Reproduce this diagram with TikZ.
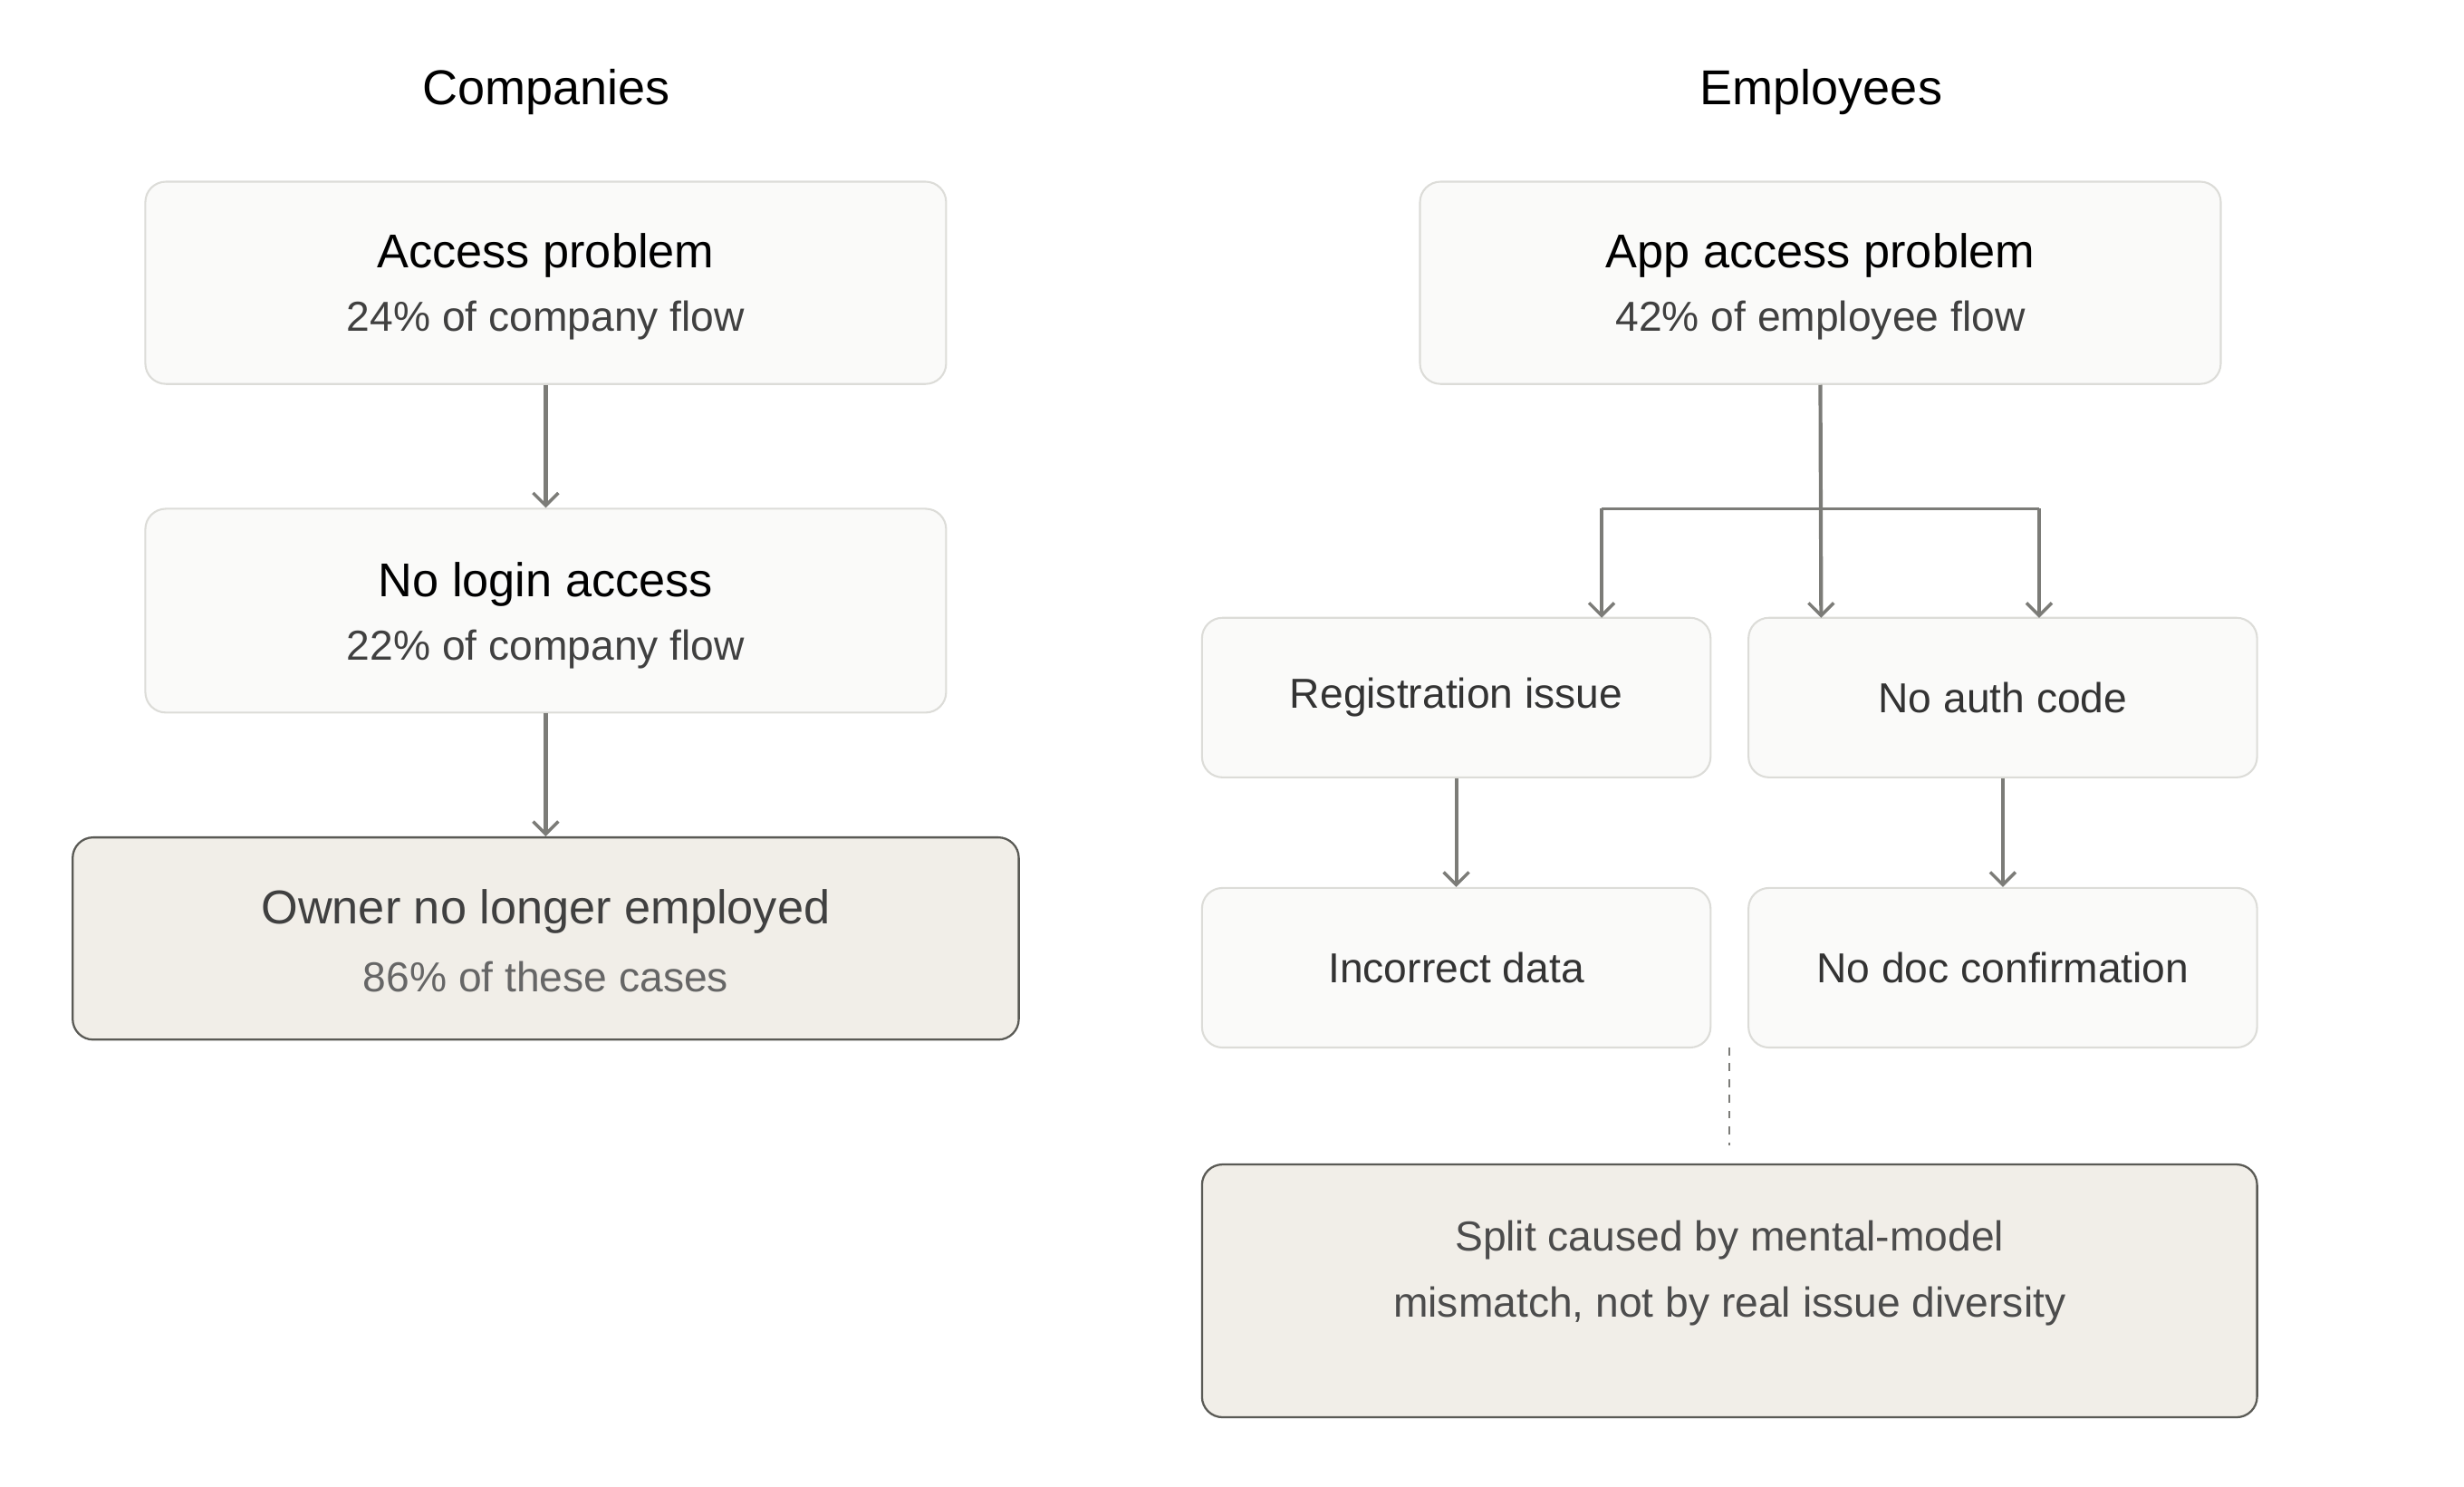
\documentclass[tikz,border=0pt]{standalone}
\usepackage{fontspec}
\setmainfont{Liberation Sans}
\usetikzlibrary{arrows.meta}
\definecolor{bfill}{HTML}{FAFAF9}
\definecolor{bdraw}{HTML}{DCDCD8}
\definecolor{nfill}{HTML}{F1EEE8}
\definecolor{ndraw}{HTML}{5A5A55}
\definecolor{arr}{HTML}{7C7C78}
\begin{document}
\begin{tikzpicture}[x=1pt,y=-1pt,
  box/.style={draw=bdraw,fill=bfill,line width=1.2pt,rounded corners=13pt,inner sep=0pt},
  note/.style={draw=ndraw,fill=nfill,line width=1.3pt,rounded corners=13pt,inner sep=0pt},
  ar/.style={draw=arr,line width=2.4pt,-{Straight Barb[length=8pt,width=16pt,line width=2pt]}},
  ttl/.style={font=\fontsize{31}{36}\selectfont,text=black},
  bt/.style={font=\fontsize{30}{36}\selectfont,text=black},
  sub/.style={font=\fontsize{26.5}{32}\selectfont,text=black!75},
  lf/.style={font=\fontsize{26.5}{32}\selectfont,text=black!80}]
\useasboundingbox (0,0) rectangle (1560,940.6);
\node[ttl] (tc) at (346,58) {Companies};
\node[ttl] (te) at (1153,58) {Employees};
% left
\node[box,minimum width=507pt,minimum height=128pt] (a) at (345.5,179) {};
\node[bt] at (345.5,162) {Access problem};
\node[sub] at (345.5,203) {24\% of company flow};
\node[box,minimum width=507pt,minimum height=129pt] (b) at (345.5,386.5) {};
\node[bt] at (345.5,370) {No login access};
\node[sub] at (345.5,411) {22\% of company flow};
\node[note,minimum width=599pt,minimum height=128pt] (c) at (345.5,594) {};
\node[bt,text=black!75] at (345.5,577) {Owner no longer employed};
\node[sub,text=black!60] at (345.5,618) {86\% of these cases};
\draw[ar] (a) -- (b);
\draw[ar] (b) -- (c);
% right
\node[box,minimum width=507pt,minimum height=128pt] (d) at (1152.5,179) {};
\node[bt] at (1152.5,162) {App access problem};
\node[sub] at (1152.5,203) {42\% of employee flow};
\node[box,minimum width=322pt,minimum height=101pt] (r) at (922,441.5) {};
\node[lf] at (r) {Registration issue};
\node[box,minimum width=322pt,minimum height=101pt] (n) at (1268,441.5) {};
\node[lf] at (n) {No auth code};
\node[box,minimum width=322pt,minimum height=101pt] (i) at (922,612.5) {};
\node[lf] at (i) {Incorrect data};
\node[box,minimum width=322pt,minimum height=101pt] (q) at (1268,612.5) {};
\node[lf] at (q) {No doc confirmation};
\node[note,minimum width=668pt,minimum height=160pt] (m) at (1095,817) {};
\node[lf,text=black!70,align=center,font=\fontsize{26.5}{42}\selectfont] at (1095,806) {Split caused by mental-model\\mismatch, not by real issue diversity};
\coordinate (hl) at (1014,322);
\coordinate (hr) at (1291,322);
\coordinate (tl) at (1014,391);
\coordinate (tm) at (1153,391);
\coordinate (tr) at (1291,391);
\coordinate (ds) at (1095,663);
\coordinate (de) at (1095,725);
\draw[arr,line width=1.5pt] (hl) -- (hr);
\draw[ar] (d.south) -- (tm);
\draw[ar] (hl) -- (tl);
\draw[ar] (hr) -- (tr);
\draw[ar] (r) -- (i);
\draw[ar] (n) -- (q);
\draw[arr,line width=1.3pt,dash pattern=on 5pt off 5pt] (ds) -- (de);
\end{tikzpicture}
\end{document}
